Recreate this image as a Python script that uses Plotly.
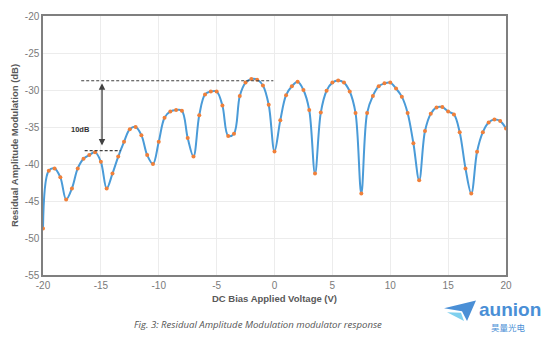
import plotly.graph_objects as go

voltage = [-20, -19.5, -19, -18.5, -18, -17.5, -17, -16.5, -16, -15.5,
           -15, -14.5, -14, -13.5, -13, -12.5, -12, -11.5, -11, -10.5,
           -10, -9.5, -9, -8.5, -8, -7.5, -7, -6.5, -6, -5.5,
           -5, -4.5, -4, -3.5, -3, -2.5, -2, -1.5, -1, -0.5,
           0, 0.5, 1, 1.5, 2, 2.5, 3, 3.5, 4, 4.5,
           5, 5.5, 6, 6.5, 7, 7.5, 8, 8.5, 9, 9.5,
           10, 10.5, 11, 11.5, 12, 12.5, 13, 13.5, 14, 14.5,
           15, 15.5, 16, 16.5, 17, 17.5, 18, 18.5, 19, 19.5, 20]
ram_db = [-48.7, -40.9, -40.6, -41.8, -44.8, -43.3, -40.6, -39.3, -38.8, -38.4,
          -39.7, -43.3, -41.3, -39.0, -37.0, -35.3, -35.0, -36.1, -38.8, -40.0,
          -37.0, -33.75, -32.9, -32.7, -32.8, -36.5, -39.0, -33.4, -30.6, -30.2,
          -30.2, -32.1, -36.2, -35.9, -30.8, -29.0, -28.5, -28.6, -29.4, -32.0,
          -38.3, -34.1, -30.7, -29.5, -28.9, -30.0, -32.7, -41.3, -33.05, -30.1,
          -29.0, -28.7, -29.0, -30.2, -33.1, -44.0, -33.1, -30.8, -29.5, -29.1,
          -29.0, -29.8, -30.9, -33.1, -37.2, -42.2, -35.55, -33.2, -32.35, -32.3,
          -32.9, -33.3, -35.7, -40.6, -44.0, -38.35, -35.7, -34.4, -34.0, -34.2, -35.2]

x_ticks = [-20, -15, -10, -5, 0, 5, 10, 15, 20]
y_ticks = [-20, -25, -30, -35, -40, -45, -50, -55]

# reference lines (data units)
top_ref_db = -28.75
top_ref_x = [-16.7, -0.1]
low_ref_db = -38.2
low_ref_x = [-16.4, -13.3]
arrow_x = -14.9
arrow_db = [-37.7, -29.1]
arrow_label = "10dB"

W, H = 554, 342
L, R, T, B = 43, 506, 10, 275

def px(xp):
    return (xp - L) / (R - L)

def py(yp):
    return (B - yp) / (B - T)

fig = go.Figure()
fig.add_trace(go.Scatter(
    x=voltage, y=ram_db, mode="lines",
    line=dict(color="#4a9bd8", width=2, shape="spline", smoothing=1.0),
    hoverinfo="skip", showlegend=False))
fig.add_trace(go.Scatter(
    x=voltage, y=ram_db, mode="markers",
    marker=dict(color="#f0803a", size=4),
    showlegend=False))

# dashed reference lines
for xs, yv in [(top_ref_x, top_ref_db), (low_ref_x, low_ref_db)]:
    fig.add_shape(type="line", x0=xs[0], x1=xs[1], y0=yv, y1=yv,
                  xref="x", yref="y",
                  line=dict(color="#404040", width=1.2, dash="3px,2px"))

# double-headed arrow
fig.add_annotation(x=arrow_x, y=arrow_db[1], ax=arrow_x, ay=arrow_db[0],
                   xref="x", yref="y", axref="x", ayref="y",
                   showarrow=True, arrowhead=2, startarrowhead=2,
                   arrowside="end+start", arrowsize=1, startarrowsize=1,
                   arrowwidth=1.3, arrowcolor="#404040", text="")
fig.add_annotation(x=-16.8, y=-35.3, xref="x", yref="y", text="<b>" + arrow_label + "</b>",
                   showarrow=False,
                   font=dict(family="Liberation Sans, Arial", size=7.5, color="#333333"))

# caption
fig.add_annotation(x=px(258), y=py(326), xref="paper", yref="paper",
                   text="<i>Fig. 3: Residual Amplitude Modulation modulator response</i>",
                   showarrow=False, xanchor="center", yanchor="middle",
                   font=dict(family="Open Sans, DejaVu Sans", size=9.6, color="#555555"))

# logo text
fig.add_annotation(x=px(477), y=py(310), xref="paper", yref="paper",
                   text="<b>aunion</b>", showarrow=False, xanchor="left", yanchor="middle",
                   font=dict(family="Liberation Sans, Arial", size=19, color="#4a8fd6"))
fig.add_annotation(x=px(509), y=py(328), xref="paper", yref="paper",
                   text="昊量光电", showarrow=False, xanchor="center", yanchor="middle",
                   font=dict(family="Noto Sans CJK SC", size=8.5, color="#4a8fd6"))

# logo icon (paper plane) as paths in paper coordinates
def path(points):
    s = "M " + " L ".join(f"{px(a):.4f},{py(b):.4f}" for a, b in points) + " Z"
    return s

fig.add_shape(type="path", xref="paper", yref="paper",
              path=path([(444, 309), (476, 301), (467, 322), (462, 312)]),
              fillcolor="#4a8fd6", line=dict(width=0))
fig.add_shape(type="path", xref="paper", yref="paper",
              path=path([(447, 313), (461, 313.5), (464, 322)]),
              fillcolor="#7fd0ee", line=dict(width=0))

fig.update_layout(
    width=W, height=H,
    margin=dict(l=L, r=W - R, t=T, b=H - B),
    paper_bgcolor="white", plot_bgcolor="white",
    font=dict(family="Liberation Sans, Arial", color="#7a7a7a"),
    xaxis=dict(range=[-20, 20], tickvals=x_ticks, ticktext=[str(v) for v in x_ticks],
               showgrid=True, gridcolor="#ececec", gridwidth=1,
               zeroline=False, showline=True, linecolor="#7f7f7f", linewidth=1.5,
               mirror=True, ticks="", tickfont=dict(size=10, color="#7a7a7a"),
               title=dict(text="<b>DC Bias Applied Voltage (V)</b>", standoff=6,
                          font=dict(size=9.5, color="#595959"))),
    yaxis=dict(range=[-55, -20], tickvals=y_ticks, ticktext=[str(v) for v in y_ticks],
               showgrid=True, gridcolor="#ececec", gridwidth=1,
               zeroline=False, showline=True, linecolor="#7f7f7f", linewidth=1.5,
               mirror=True, ticks="", tickfont=dict(size=10, color="#7a7a7a"),
               title=dict(text="<b>Residual Amplitude Modulation (dB)</b>", standoff=4,
                          font=dict(size=9.5, color="#595959"))),
)

fig.write_html("out.html")
